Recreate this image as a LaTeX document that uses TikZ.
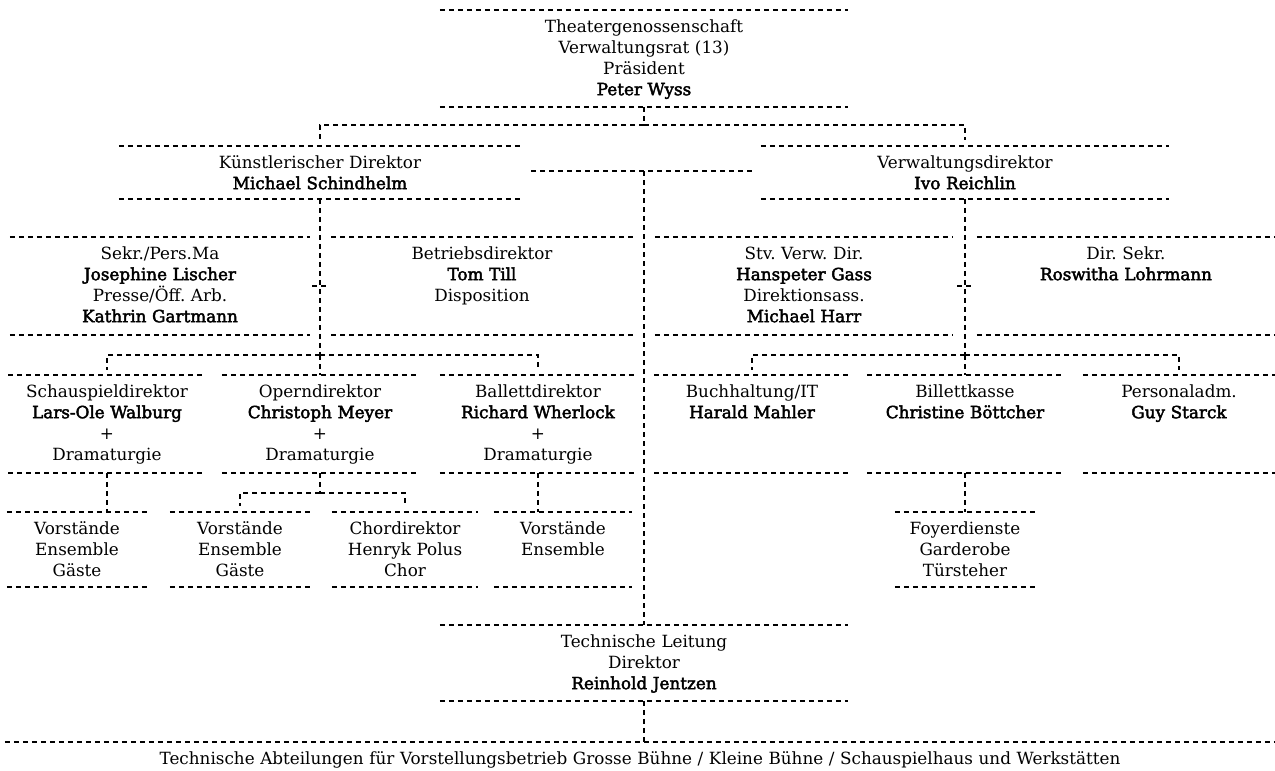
\documentclass[tikz,border=0pt]{standalone}
\usepackage{fontspec}
\setmainfont{DejaVu Serif}[BoldFont={*},BoldFeatures={FakeBold=2.5}]
\frenchspacing

\tikzset{
  unitbox/.style={anchor=north, inner sep=0pt, text width=#1, align=center, text height=22pt},
  dashline/.style={line width=1.25pt, dash pattern=on 5pt off 4pt},
}

\begin{document}
\begin{tikzpicture}[x=1pt, y=-1pt, font=\fontsize{16.8}{21}\selectfont]
  \useasboundingbox (0,0) rectangle (1275,771);

  % Verwaltungsrat
  \node[unitbox=408pt, text depth=74.5pt] (vr) at (644,10) {Theatergenossenschaft\\Verwaltungsrat (13)\\Präsident\\\textbf{Peter Wyss}};

  % Direktion
  \node[unitbox=402pt, text depth=30.5pt] (kd) at (320,146) {Künstlerischer Direktor\\\textbf{Michael Schindhelm}};
  \node[unitbox=408pt, text depth=30.5pt] (vd) at (965,146) {Verwaltungsdirektor\\\textbf{Ivo Reichlin}};

  % Stab
  \node[unitbox=300pt, text depth=75.5pt] (sekr) at (160,237) {Sekr./Pers.Ma\\\textbf{Josephine Lischer}\\Presse/Öff. Arb.\\\textbf{Kathrin Gartmann}};
  \node[unitbox=301pt, text depth=75.5pt] (betr) at (482,237) {Betriebsdirektor\\\textbf{Tom Till}\\Disposition};
  \node[unitbox=298pt, text depth=75.5pt] (stv) at (804,237) {Stv. Verw. Dir.\\\textbf{Hanspeter Gass}\\Direktionsass.\\\textbf{Michael Harr}};
  \node[unitbox=298pt, text depth=75.5pt] (dsekr) at (1126,237) {Dir. Sekr.\\\textbf{Roswitha Lohrmann}};

  % Sparten und Abteilungen
  \node[unitbox=197pt, text depth=75.5pt] (schau) at (107,375) {Schauspieldirektor\\\textbf{Lars-Ole Walburg}\\+\\Dramaturgie};
  \node[unitbox=196pt, text depth=75.5pt] (oper) at (320,375) {Operndirektor\\\textbf{Christoph Meyer}\\+\\Dramaturgie};
  \node[unitbox=196pt, text depth=75.5pt] (ballett) at (538,375) {Ballettdirektor\\\textbf{Richard Wherlock}\\+\\Dramaturgie};
  \node[unitbox=195pt, text depth=75.5pt] (buch) at (752,375) {Buchhaltung/IT\\\textbf{Harald Mahler}};
  \node[unitbox=195pt, text depth=75.5pt] (bill) at (965,375) {Billettkasse\\\textbf{Christine Böttcher}};
  \node[unitbox=192pt, text depth=75.5pt] (pers) at (1179,375) {Personaladm.\\\textbf{Guy Starck}};

  % Ensembles
  \node[unitbox=140pt, text depth=52.5pt] (vs1) at (77,512) {Vorstände\\Ensemble\\Gäste};
  \node[unitbox=140pt, text depth=52.5pt] (vs2) at (240,512) {Vorstände\\Ensemble\\Gäste};
  \node[unitbox=146pt, text depth=52.5pt] (chor) at (405,512) {Chordirektor\\Henryk Polus\\Chor};
  \node[unitbox=138pt, text depth=52.5pt] (vs3) at (563,512) {Vorstände\\Ensemble};
  \node[unitbox=140pt, text depth=52.5pt] (foyer) at (965,512) {Foyerdienste\\Garderobe\\Türsteher};

  % Technik
  \node[unitbox=408pt, text depth=53.5pt] (tl) at (644,625) {Technische Leitung\\Direktor\\\textbf{Reinhold Jentzen}};
  \node[unitbox=1270pt, text depth=10pt] (ta) at (640,742) {Technische Abteilungen für Vorstellungsbetrieb Grosse Bühne / Kleine Bühne / Schauspielhaus und Werkstätten};

  % Kastenlinien
  \foreach \u in {vr,kd,vd,sekr,betr,stv,dsekr,schau,oper,ballett,buch,bill,pers,vs1,vs2,chor,vs3,foyer,tl}
    \draw[dashline] (\u.north west) -- (\u.north east) (\u.south west) -- (\u.south east);
  \draw[dashline] (ta.north west) -- (ta.north east);

  % Verbindungen
  \coordinate (j1) at (644,125);
  \draw[dashline] (vr.south) -- (j1);
  \draw[dashline, shorten >=6pt] (j1) -| (kd.north);
  \draw[dashline, shorten >=6pt] (j1) -| (vd.north);

  \coordinate (j2) at (644,171);
  \draw[dashline] ([xshift=10pt]kd.east |- j2) -- ([xshift=-5pt]vd.west |- j2);
  \draw[dashline] (j2) -- (tl.north);
  \draw[dashline] (tl.south) -- (tl.south |- ta.north);

  \coordinate (j3) at (320,355);
  \draw[dashline] (kd.south) -- (j3);
  \draw[dashline] (kd.south |- sekr.east) ++(-8,0) -- ++(16,0);
  \draw[dashline, shorten >=5pt] (j3) -| (schau.north);
  \draw[dashline, shorten >=5pt] (j3) -| (ballett.north);
  \draw[dashline] (j3) -- (oper.north);

  \coordinate (j4) at (965,355);
  \draw[dashline] (vd.south) -- (j4);
  \draw[dashline] (vd.south |- stv.east) ++(-8,0) -- ++(16,0);
  \draw[dashline, shorten >=5pt] (j4) -| (buch.north);
  \draw[dashline, shorten >=5pt] (j4) -| (pers.north);
  \draw[dashline] (j4) -- (bill.north);

  \draw[dashline] (schau.south) -- (schau.south |- vs1.north);
  \coordinate (j5) at (320,493);
  \draw[dashline] (oper.south) -- (j5);
  \draw[dashline, shorten >=6pt] (j5) -| (vs2.north);
  \draw[dashline, shorten >=6pt] (j5) -| (chor.north);
  \draw[dashline] (ballett.south) -- (ballett.south |- vs3.north);
  \draw[dashline] (bill.south) -- (foyer.north);
\end{tikzpicture}
\end{document}
